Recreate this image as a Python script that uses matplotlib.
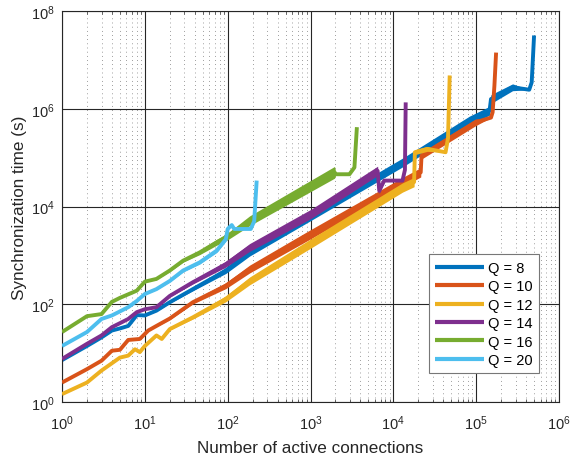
import numpy as np
import matplotlib
matplotlib.use('Agg')
import matplotlib.pyplot as plt
from matplotlib.ticker import FixedLocator, NullLocator, NullFormatter

plt.rcParams['font.family'] = ['Liberation Sans', 'DejaVu Sans']
plt.rcParams['mathtext.fontset'] = 'custom'
plt.rcParams['mathtext.rm'] = 'Liberation Sans'
plt.rcParams['mathtext.it'] = 'Liberation Sans:italic'

labels = ['Q = 8', 'Q = 10', 'Q = 12', 'Q = 14', 'Q = 16', 'Q = 20']
colors = ['#0072BD', '#D95319', '#EDB120', '#7E2F8E', '#77AC30', '#4DBEEE']

# values; spread = half width of the noisy band (decades)
q8_x = [1, 2, 3, 4, 5, 6.3, 8, 10, 13.8, 20, 38, 95, 184, 1000, 12900, 83000,
        1.45e5, 1.51e5, 2.75e5, 4.37e5, 4.68e5, 5.0e5]
q8_y = [7.2, 14, 21, 29, 32, 36, 60, 59, 74, 110, 204, 490, 1150, 6300, 79400, 5.75e5,
        9.1e5, 1.58e6, 2.75e6, 2.45e6, 3.47e6, 3.16e7]
q8_spread = [0, 0, 0, 0, 0, 0, 0, 0, 0.015, 0.02, 0.035, 0.06, 0.075, 0.09, 0.09, 0.09,
             0.09, 0.09, 0.07, 0, 0, 0]

q10_x = [1, 2, 3, 4, 5, 6.3, 8.7, 11, 13.8, 20, 38, 95, 184, 1000, 12900, 21400,
         21900, 97700, 1.51e5, 1.58e5, 1.66e5, 1.74e5]
q10_y = [2.5, 4.7, 7.0, 11.2, 11.7, 18.6, 19.5, 29, 36, 51, 110, 240, 525, 2700, 31600, 50000,
         1.1e5, 5.25e5, 6.6e5, 8.5e5, 2.95e6, 1.41e7]
q10_spread = [0, 0, 0, 0, 0, 0, 0, 0, 0.015, 0.02, 0.035, 0.06, 0.08, 0.095, 0.095, 0.095,
              0.07, 0.07, 0, 0, 0, 0]

q12_x = [1, 2, 3, 5, 6.3, 7.6, 8.7, 10, 13.8, 16, 20, 38, 95, 184, 1000, 12900, 17800,
         18200, 25700, 42700, 45700, 47900]
q12_y = [1.45, 2.5, 4.4, 8.1, 8.9, 12, 10.5, 14, 23, 19.5, 31, 54, 129, 300, 1740, 24500, 31600,
         1.29e5, 1.51e5, 1.29e5, 2.5e5, 4.8e6]
q12_spread = [0, 0, 0, 0, 0, 0, 0, 0, 0.015, 0.015, 0.02, 0.035, 0.06, 0.08, 0.095, 0.095, 0.095,
              0.05, 0.05, 0, 0, 0]

q14_x = [1, 2, 3, 4, 5, 6.3, 8, 10, 13.8, 20, 38, 95, 184, 1020, 6460, 6760, 7760,
         12900, 13800, 14100]
q14_y = [7.6, 15.5, 23, 34, 41, 50, 69, 79, 87, 148, 282, 660, 1450, 7100, 53700, 20900, 33900,
         33900, 56000, 1.35e6]
q14_spread = [0, 0, 0, 0, 0, 0, 0, 0, 0.015, 0.02, 0.035, 0.06, 0.08, 0.095, 0.095, 0.06, 0,
              0, 0, 0]

q16_x = [1, 2, 3, 4, 5, 8, 10, 13.8, 20, 29, 46, 74, 100, 184, 1950, 2040, 2950, 3390, 3630]
q16_y = [27, 57, 63, 112, 135, 190, 290, 330, 490, 780, 1150, 1860, 2450, 5100, 50000, 45700,
         45700, 63000, 4.2e5]
q16_spread = [0, 0, 0, 0, 0, 0, 0, 0.015, 0.02, 0.03, 0.045, 0.06, 0.07, 0.1, 0.12, 0,
              0, 0, 0]

q20_x = [1, 2, 3, 4, 6.3, 8, 10, 13.8, 20, 29, 46, 74, 95, 100, 112, 120, 190, 209, 224]
q20_y = [14, 27, 50, 59, 87, 117, 162, 204, 300, 490, 720, 1260, 2140, 3470, 4170, 3470, 3470,
         5000, 33900]
q20_spread = [0, 0, 0, 0, 0, 0, 0, 0.015, 0.02, 0.03, 0.035, 0.04, 0.04, 0, 0, 0, 0, 0, 0]

series = [(q8_x, q8_y, q8_spread), (q10_x, q10_y, q10_spread), (q12_x, q12_y, q12_spread),
          (q14_x, q14_y, q14_spread), (q16_x, q16_y, q16_spread), (q20_x, q20_y, q20_spread)]

fig = plt.figure(figsize=(5.71, 4.60), dpi=100)
ax = fig.add_axes([0.1086, 0.1239, 0.8704, 0.850])

for i, (xs, ys, sp) in enumerate(series):
    x = np.array(xs, dtype=float)
    y = np.array(ys, dtype=float)
    s = np.array(sp, dtype=float)
    ax.fill_between(x, y / 10**s, y * 10**s, color=colors[i], lw=0, zorder=2 + i)
    ax.plot(x, y, color=colors[i], lw=2.8, label=labels[i], zorder=2 + i,
            solid_joinstyle='round', solid_capstyle='butt')

ax.set_xscale('log')
ax.set_yscale('log')
ax.set_xlim(1, 1e6)
ax.set_ylim(1, 1e8)
decades = 10.0 ** np.arange(0, 7)
ax.set_xticks(decades)
minor_x = [d * k for d in decades[:-1] for k in range(2, 10)]
ax.xaxis.set_minor_locator(FixedLocator(minor_x))
ax.xaxis.set_minor_formatter(NullFormatter())
ax.set_yticks([1, 1e2, 1e4, 1e6, 1e8])
ax.yaxis.set_minor_locator(NullLocator())

ax.grid(True, which='major', color='#262626', lw=0.8, ls='-', zorder=1)
ax.grid(True, which='minor', axis='x', color='#444444', lw=0.5, ls=(0, (1, 5)), zorder=1)
ax.set_axisbelow(True)

ax.tick_params(which='both', direction='in', top=True, right=True, colors='#262626',
               labelsize=10.5)
ax.tick_params(which='major', length=4, width=0.6)
ax.tick_params(which='minor', length=2.5, width=0.5)
ax.tick_params(axis='x', which='major', pad=8)
ax.tick_params(axis='y', which='major', pad=5)
for sp_ in ax.spines.values():
    sp_.set_color('#262626')
    sp_.set_linewidth(0.8)

ax.set_xlabel('Number of active connections', fontsize=12.3, color='#262626', labelpad=6)
ax.set_ylabel('Synchronization time (s)', fontsize=12.3, color='#262626', labelpad=3)

leg = ax.legend(loc='lower right', bbox_to_anchor=(0.960, 0.073), borderaxespad=0,
                fontsize=10.5, handlelength=3.3, handletextpad=0.3, labelspacing=0.3,
                borderpad=0.45, fancybox=False, framealpha=1, edgecolor='#777777')
leg.get_frame().set_linewidth(0.8)
for h in leg.get_lines():
    h.set_linewidth(3)

fig.savefig('out.png', dpi=100)
